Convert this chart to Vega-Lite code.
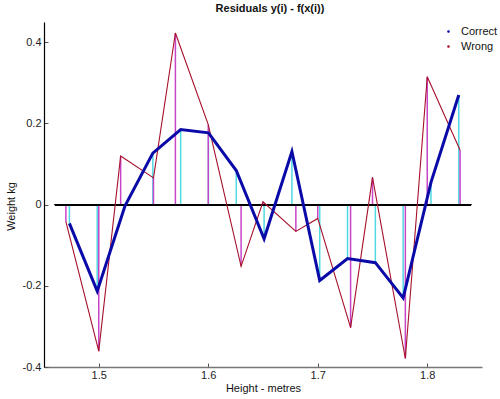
{
  "$schema": "https://vega.github.io/schema/vega-lite/v6.json",
  "width": 438,
  "height": 345,
  "autosize": {"type": "none"},
  "padding": {"left": 44, "top": 22, "right": 18, "bottom": 32},
  "background": "white",
  "config": {
    "view": {"stroke": null},
    "font": "Liberation Sans",
    "axis": {"grid": false, "labelFont": "Liberation Sans", "titleFont": "Liberation Sans", "labelFontSize": 11, "titleFontSize": 11, "titleFontWeight": "normal", "labelColor": "#222", "titleColor": "#111"}
  },
  "title": {"text": "Residuals y(i) - f(x(i))", "font": "Liberation Sans", "fontSize": 11, "fontWeight": "bold", "anchor": "middle", "offset": 8, "dx": 7, "color": "#111"},
  "data": {"values": [
    {"h": 1.4732, "r": -0.046, "fit": "Correct"},
    {"h": 1.4986, "r": -0.213, "fit": "Correct"},
    {"h": 1.524, "r": -0.003, "fit": "Correct"},
    {"h": 1.5494, "r": 0.127, "fit": "Correct"},
    {"h": 1.5748, "r": 0.185, "fit": "Correct"},
    {"h": 1.6002, "r": 0.177, "fit": "Correct"},
    {"h": 1.6256, "r": 0.084, "fit": "Correct"},
    {"h": 1.651, "r": -0.084, "fit": "Correct"},
    {"h": 1.6764, "r": 0.131, "fit": "Correct"},
    {"h": 1.7018, "r": -0.187, "fit": "Correct"},
    {"h": 1.7272, "r": -0.133, "fit": "Correct"},
    {"h": 1.7526, "r": -0.143, "fit": "Correct"},
    {"h": 1.778, "r": -0.23, "fit": "Correct"},
    {"h": 1.8034, "r": 0.055, "fit": "Correct"},
    {"h": 1.8288, "r": 0.27, "fit": "Correct"},
    {"h": 1.47, "r": -0.042, "fit": "Wrong"},
    {"h": 1.5, "r": -0.361, "fit": "Wrong"},
    {"h": 1.52, "r": 0.12, "fit": "Wrong"},
    {"h": 1.55, "r": 0.066, "fit": "Wrong"},
    {"h": 1.57, "r": 0.423, "fit": "Wrong"},
    {"h": 1.6, "r": 0.197, "fit": "Wrong"},
    {"h": 1.63, "r": -0.152, "fit": "Wrong"},
    {"h": 1.65, "r": 0.007, "fit": "Wrong"},
    {"h": 1.68, "r": -0.066, "fit": "Wrong"},
    {"h": 1.7, "r": -0.034, "fit": "Wrong"},
    {"h": 1.73, "r": -0.303, "fit": "Wrong"},
    {"h": 1.75, "r": 0.067, "fit": "Wrong"},
    {"h": 1.78, "r": -0.379, "fit": "Wrong"},
    {"h": 1.8, "r": 0.315, "fit": "Wrong"},
    {"h": 1.83, "r": 0.134, "fit": "Wrong"}
  ]},
  "encoding": {
    "x": {"field": "h", "type": "quantitative", "scale": {"domain": [1.45, 1.85], "nice": false, "zero": false},
      "axis": {"title": "Height - metres", "values": [1.5, 1.6, 1.7, 1.8], "labelExpr": "toString(datum.value)", "tickSize": -4, "tickColor": "#555", "domainColor": "#777", "domainWidth": 1.5, "labelPadding": 6, "titlePadding": 2, "labelFlush": false}},
    "y": {"field": "r", "type": "quantitative", "scale": {"domain": [-0.4, 0.45], "nice": false, "zero": false},
      "axis": {"title": "Weight kg", "values": [-0.4, -0.2, 0, 0.2, 0.4], "labelExpr": "toString(datum.value)", "tickSize": -4, "tickColor": "#555", "domainColor": "#000", "domainWidth": 1.2, "labelPadding": 7, "titlePadding": 6, "titleY": 184, "labelFlush": false}}
  },
  "layer": [
    {
      "mark": {"type": "rule", "strokeWidth": 1.5},
      "encoding": {
        "y2": {"datum": 0},
        "color": {"condition": {"test": "datum.fit === 'Correct'", "value": "#4fd9e3"}, "value": "#c845c8"}
      }
    },
    {
      "mark": {"type": "rule", "color": "#000", "strokeWidth": 1},
      "encoding": {"x": {"datum": 1.46}, "x2": {"datum": 1.84}, "y": {"datum": 0}}
    },
    {
      "transform": [{"filter": "datum.fit === 'Wrong'"}],
      "mark": {"type": "line", "strokeWidth": 1.1},
      "encoding": {
        "color": {"field": "fit", "type": "nominal", "scale": {"domain": ["Correct", "Wrong"], "range": ["#0a0aa8", "#a5102a"]},
          "legend": {"title": null, "orient": "none", "legendX": 399, "legendY": 4, "symbolType": "circle", "symbolSize": 2, "symbolStrokeWidth": 1.2, "labelFontSize": 11, "labelFont": "Liberation Sans", "labelColor": "#111", "rowPadding": 3, "labelOffset": 7}}
      }
    },
    {
      "transform": [{"filter": "datum.fit === 'Correct'"}],
      "mark": {"type": "line", "strokeWidth": 3},
      "encoding": {
        "color": {"field": "fit", "type": "nominal"}
      }
    }
  ]
}
